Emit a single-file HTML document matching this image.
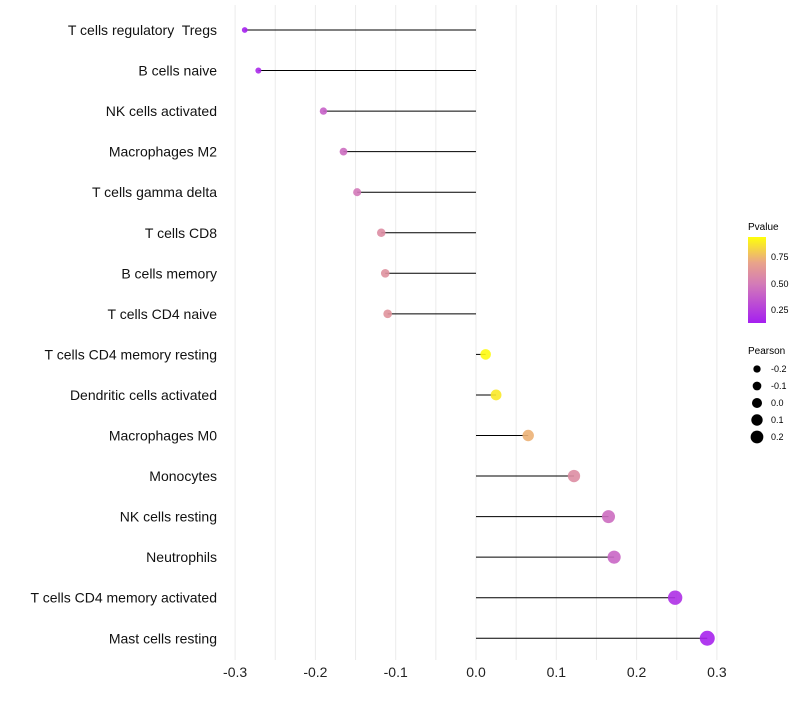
<!DOCTYPE html>
<html><head><meta charset="utf-8"><style>
body{margin:0;background:#fff;font-family:"Liberation Sans",sans-serif}
text{white-space:pre}
</style></head><body>
<svg id="c" width="800" height="700" xmlns="http://www.w3.org/2000/svg">
<defs><linearGradient id="g" x1="0" y1="1" x2="0" y2="0">
<stop offset="0" stop-color="#a51ff0"/><stop offset="0.45" stop-color="#d37ab8"/><stop offset="0.7" stop-color="#e9a38a"/><stop offset="1" stop-color="#ffff0a"/></linearGradient></defs>
<g id="grid"></g><g id="marks"></g><g id="labels"></g>
<g>
<text x="748" y="230" font-size="10">Pvalue</text>
<rect x="748" y="237" width="18" height="86" fill="url(#g)"/>
<g font-size="9"><text x="771" y="260">0.75</text><text x="771" y="287">0.50</text><text x="771" y="313">0.25</text></g>
</g>
<g id="sleg">
<text x="748" y="354" font-size="10">Pearson</text>
</g>
</svg>
<script>
const cats=["T cells regulatory  Tregs","B cells naive","NK cells activated","Macrophages M2","T cells gamma delta","T cells CD8","B cells memory","T cells CD4 naive","T cells CD4 memory resting","Dendritic cells activated","Macrophages M0","Monocytes","NK cells resting","Neutrophils","T cells CD4 memory activated","Mast cells resting"];
const pearson=[-0.288,-0.271,-0.19,-0.165,-0.148,-0.118,-0.113,-0.11,0.012,0.025,0.065,0.122,0.165,0.172,0.248,0.288];
const pvals=[0.14,0.17,0.4,0.45,0.5,0.6,0.62,0.63,0.95,0.9,0.75,0.6,0.45,0.42,0.2,0.15];
const ticks=[-0.3,-0.2,-0.1,0,0.1,0.2,0.3];
const sizeLeg=[-0.2,-0.1,0,0.1,0.2];
const NS="http://www.w3.org/2000/svg";
const x=v=>476+v*803;
const y=i=>30+i*40.55;
const r=v=>Math.max(1.8,5.2+8*v);
function col(p){const t=Math.min(1,Math.max(0,(p-0.13)/(0.96-0.13)));
const st=[[0,[165,31,240]],[0.45,[211,122,184]],[0.7,[233,163,138]],[1,[255,255,10]]];
for(let k=1;k<st.length;k++){if(t<=st[k][0]){const a=st[k-1],b=st[k],f=(t-a[0])/(b[0]-a[0]);
return "rgb("+a[1].map((c,j)=>Math.round(c+(b[1][j]-c)*f)).join(",")+")";}}return "rgb(255,255,10)";}
function mk(t,a,p){const e=document.createElementNS(NS,t);for(const k in a)e.setAttribute(k,a[k]);p.appendChild(e);return e;}
const grid=document.getElementById('grid'),marks=document.getElementById('marks'),labels=document.getElementById('labels');
for(let v=-0.3;v<=0.301;v+=0.05){const l=mk('line',{x1:x(v),x2:x(v),y1:5,y2:660,stroke:'#ebebeb','stroke-width':1},grid);

}
ticks.forEach(t=>{const e=mk('text',{x:x(t),y:677,'font-size':14,'text-anchor':'middle',fill:'#222'},labels);e.textContent=(t===0?"0.0":t.toString());

});
cats.forEach((c,i)=>{const e=mk('text',{x:217,y:y(i)+5,'font-size':14,'text-anchor':'end',fill:'#111'},labels);e.textContent=c;


const l=mk('line',{x1:x(0),x2:x(pearson[i]),y1:y(i),y2:y(i),stroke:'#000','stroke-width':1},marks);


const d=mk('circle',{cx:x(pearson[i]),cy:y(i),r:r(pearson[i]),fill:col(pvals[i]),'fill-opacity':0.9},marks);

});
const sl=document.getElementById('sleg');
sizeLeg.forEach((v,k)=>{const cy=369+k*17;
const d=mk('circle',{cx:757,cy:cy,r:r(v)*0.85+0.6,fill:'#000'},sl);


const t=mk('text',{x:771,y:cy+3,'font-size':9},sl);t.textContent=v.toFixed(1);

});
</script>
</body></html>
